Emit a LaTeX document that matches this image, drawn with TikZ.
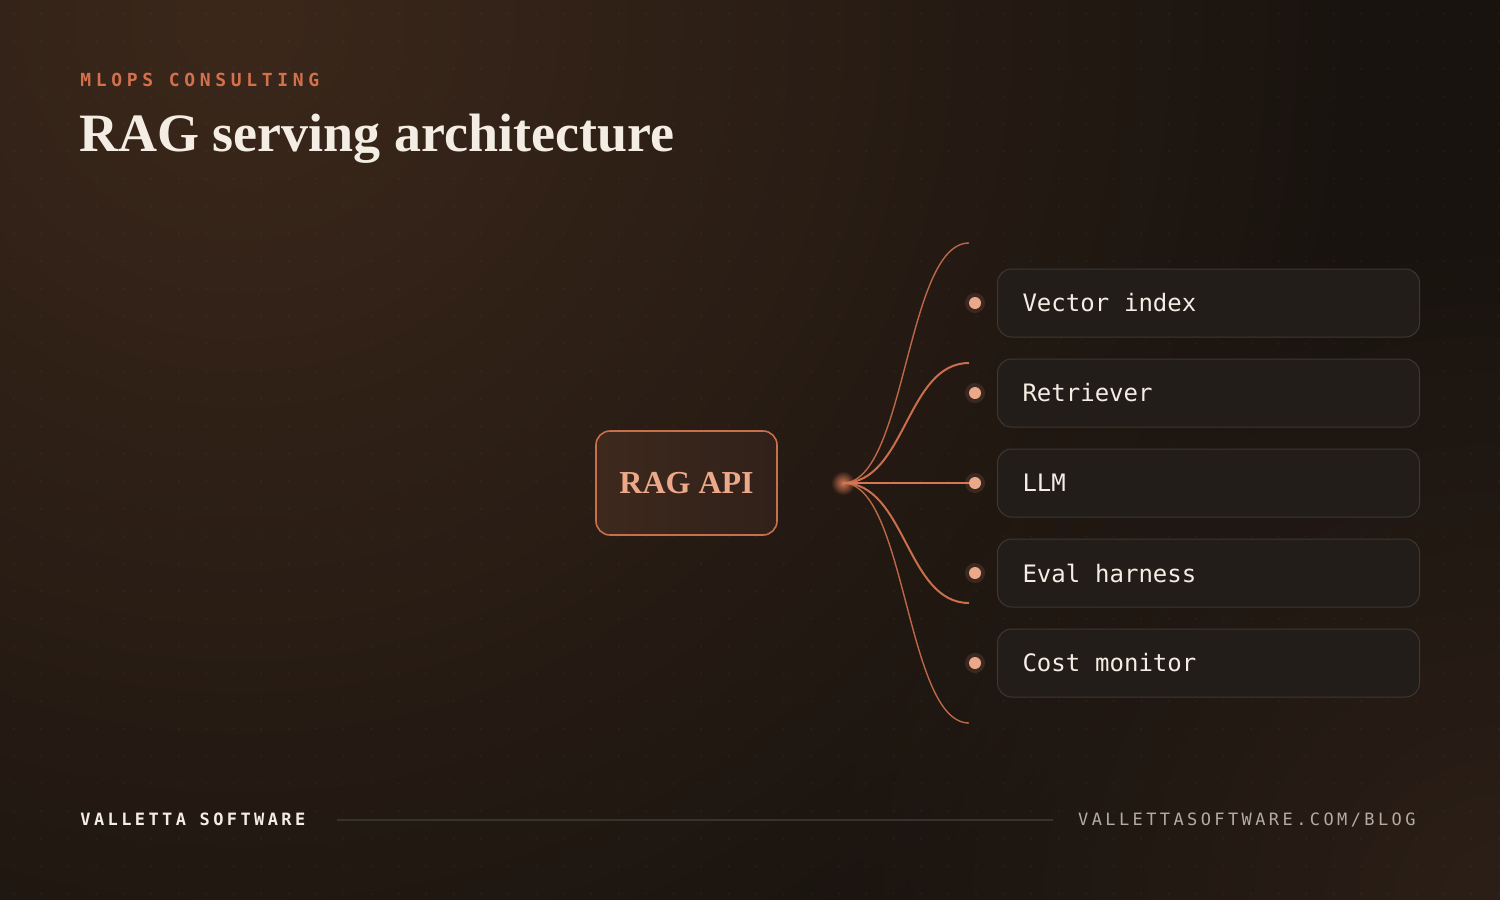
\documentclass[tikz,border=0pt]{standalone}
\usepackage{fontspec}
\setmainfont{Liberation Serif}
\newfontfamily\boxfont{DejaVu Sans Mono}
\newfontfamily\kickfont[LetterSpace=26]{DejaVu Sans Mono}
\newfontfamily\footfont[LetterSpace=20]{DejaVu Sans Mono}
\usetikzlibrary{fadings}
\tikzfading[name=softglow, inner color=transparent!0, outer color=transparent!100]
\newcommand\setwordgap[1]{\spaceskip=#1\relax\xspaceskip=#1\relax}
\definecolor{bgc}{HTML}{18130F}
\definecolor{glowA}{HTML}{3C281B}
\definecolor{glowB}{HTML}{2C1F17}
\definecolor{accent}{HTML}{D4714D}
\definecolor{cream}{HTML}{F3EDE3}
\definecolor{peach}{HTML}{ECA98A}
\definecolor{apiborder}{HTML}{C86F4C}
\definecolor{apitop}{HTML}{3E291D}
\definecolor{apibot}{HTML}{30211A}
\definecolor{curvec}{HTML}{BC6748}
\definecolor{curvein}{HTML}{C96F4D}
\definecolor{linec}{HTML}{D47752}
\definecolor{halo}{HTML}{3B2921}
\definecolor{boxfill}{HTML}{221D18}
\definecolor{boxline}{HTML}{3D3731}
\definecolor{footgray}{HTML}{B5AC9F}
\definecolor{rulec}{HTML}{38322C}
\begin{document}
\begin{tikzpicture}[x=0.5pt,y=-0.5pt,
  apibox/.style={draw=apiborder, line width=0.8pt, rounded corners=7pt,
    left color=apitop, right color=apibot, minimum width=90.5pt, minimum height=52pt,
    inner sep=0pt, text=peach, font=\fontsize{16}{18}\selectfont\bfseries},
  itembox/.style={draw=boxline, line width=0.5pt, fill=boxfill, rounded corners=7pt,
    anchor=west, text width=186pt, inner xsep=12.5pt, inner ysep=0pt, minimum height=34pt,
    align=left, text=cream, font=\boxfont\fontsize{12}{14}\selectfont,
    execute at begin node={\setwordgap{0.62em}}},
  curve/.style={draw=curvec, line width=0.7pt},
  curvein/.style={draw=curvein, line width=1pt},
  dothalo/.style={circle, fill=halo, minimum size=10pt, inner sep=0pt},
  dotcore/.style={circle, fill=peach, minimum size=6pt, inner sep=0pt}]
\useasboundingbox (0,0) rectangle (1500,900);
\fill[bgc] (0,0) rectangle (1500,900);
\begin{scope}
  \clip (0,0) rectangle (1500,900);
  \fill[glowA, path fading=softglow] (240,20) circle (1150);
  \fill[glowB, path fading=softglow] (1500,900) circle (700);
  \fill[white, opacity=0.045] \foreach \i in {0,...,54} { \foreach \j in {0,...,32} {
    ({13.75+27.5*\i},{13.75+27.5*\j}) circle (1.1) } };
\end{scope}

% header
\node[anchor=base west, inner sep=0pt, text=accent, font=\kickfont\fontsize{9}{11}\selectfont\bfseries] (kicker) at (80,86) {MLOPS CONSULTING};
\node[anchor=base west, inner sep=0pt, text=cream, font=\fontsize{27}{31}\selectfont\bfseries] (title) at (79,151) {RAG serving architecture};

% central node
\node[apibox] (api) at (686.5,483) {RAG API};

% hub and ends
\coordinate (hub) at (843,483);
\coordinate (e1) at (969,243);
\coordinate (e2) at (969,363);
\coordinate (e4) at (969,603);
\coordinate (e5) at (969,723);

\draw[curve] (hub) .. controls (906,483) and (906,243) .. (e1);
\draw[curvein] (hub) .. controls (906,483) and (906,363) .. (e2);
\draw[curvein] (hub) .. controls (906,483) and (906,603) .. (e4);
\draw[curve] (hub) .. controls (906,483) and (906,723) .. (e5);

% dots
\foreach \k/\y in {1/303,2/393,3/483,4/573,5/663}{
  \node[dothalo] (h\k) at (975,\y) {};
}
\draw[draw=linec, line width=1.3pt] (hub) -- (h3.center);
\fill[linec, path fading=softglow] (hub) circle (12);
\foreach \k/\y in {1/303,2/393,3/483,4/573,5/663}{
  \node[dotcore] (d\k) at (975,\y) {};
}

% item boxes
\node[itembox] (b1) at (997,303) {Vector index};
\node[itembox] (b2) at (997,393) {Retriever};
\node[itembox] (b3) at (997,483) {LLM};
\node[itembox] (b4) at (997,573) {Eval harness};
\node[itembox] (b5) at (997,663) {Cost monitor};

% footer
\node[anchor=base west, inner sep=0pt, text=cream, font=\footfont\fontsize{8.5}{10}\selectfont\bfseries,
  execute at begin node={\setwordgap{0.8em}}] (brand) at (80,825) {VALLETTA SOFTWARE};
\node[anchor=base east, inner sep=0pt, text=footgray, font=\footfont\fontsize{8.5}{10}\selectfont] (url) at (1416,825) {VALLETTASOFTWARE.COM/BLOG};
\coordinate (r1) at (337,820);
\coordinate (r2) at (1053,820);
\draw[rulec, line width=0.6pt] (r1) -- (r2);
\end{tikzpicture}
\end{document}
